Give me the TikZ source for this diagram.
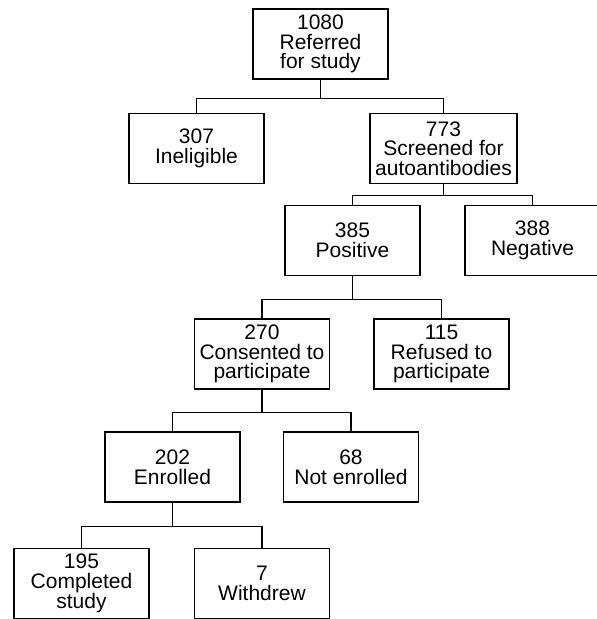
\documentclass[tikz,border=0pt]{standalone}
\usepackage{fontspec}
\setmainfont{Liberation Sans}
\usepackage{tikz}
\usetikzlibrary{calc,positioning}
\newcommand{\boxfont}{\fontsize{21}{19.7}\selectfont}

\begin{document}
\begin{tikzpicture}[x=1pt, y=-1pt,
      every node/.style={font=\boxfont, align=center},
      box/.style={draw, line width=1.35pt, minimum width=135pt,
                  minimum height=70pt, inner sep=0pt},
      link/.style={line width=1.35pt}
    ]
      \useasboundingbox (0,0) rectangle (597,619);

      % Boxes
      \node[box] (referred) at (320.5,44) {1080\\Referred\\for study};
      \node[box] (inelig) at (196.5,148.5) {307\\Ineligible};
      \node[box, minimum width=147pt] (screened) at (443.5,148.5) {773\\Screened for\\autoantibodies};
      \node[box] (positive) at (352.5,240.5) {385\\Positive};
      \node[box] (negative) at (532.5,240.5) {388\\Negative};
      \node[box] (consent) at (262,354) {270\\Consented to\\participate};
      \node[box] (refused) at (441.5,354) {115\\Refused to\\participate};
      \node[box] (enrolled) at (172.5,467) {202\\Enrolled};
      \node[box] (notenr) at (351,467) {68\\Not enrolled};
      \node[box] (complete) at (81.5,583.5) {195\\Completed\\study};
      \node[box] (withdrew) at (262,583.5) {7\\Withdrew};

      % Links
      \foreach \from/\drop/\to in {
        referred/19/inelig, referred/19/screened,
        screened/11.5/positive, screened/11.5/negative,
        positive/23/consent, positive/23/refused,
        consent/23/enrolled, consent/23/notenr,
        enrolled/24/complete, enrolled/24/withdrew%
      }{
        \draw[link] (\from.south) -- ++(0,\drop) -| (\to.north);
      }
    \end{tikzpicture}
\end{document}
